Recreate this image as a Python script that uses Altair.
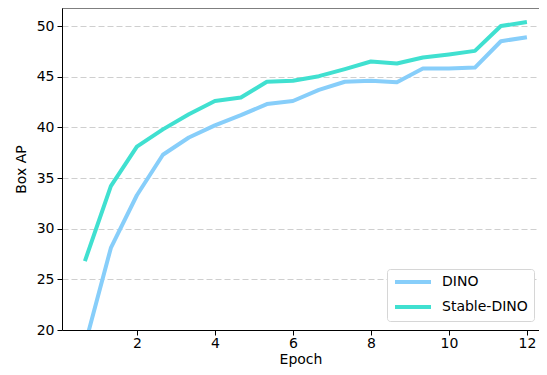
import altair as alt
import pandas as pd

epochs = [0.667, 1.333, 2.0, 2.667, 3.333, 4.0, 4.667, 5.333, 6.0,
          6.667, 7.333, 8.0, 8.667, 9.333, 10.0, 10.667, 11.333, 12.0]
dino = [18.5, 28.1, 33.3, 37.3, 39.0, 40.2, 41.2, 42.3, 42.6,
        43.7, 44.5, 44.6, 44.45, 45.8, 45.8, 45.9, 48.5, 48.9]
stable_dino = [26.8, 34.2, 38.1, 39.8, 41.3, 42.6, 42.95, 44.5, 44.6,
               45.05, 45.75, 46.5, 46.3, 46.9, 47.2, 47.55, 50.0, 50.4]
models = ["DINO", "Stable-DINO"]
colors = ["#87CEFA", "#40E0D0"]
x_ticks = [2, 4, 6, 8, 10, 12]
y_ticks = [20, 25, 30, 35, 40, 45, 50]

df = pd.concat([
    pd.DataFrame({"Epoch": epochs, "AP": dino, "Model": models[0], "k": 0}),
    pd.DataFrame({"Epoch": epochs, "AP": stable_dino, "Model": models[1], "k": 1}),
])

W, H = 477, 322
FONT = "DejaVu Sans"

lines = alt.Chart(df).mark_line(strokeWidth=4, clip=True, strokeJoin="round", strokeCap="butt").encode(
    x=alt.X("Epoch:Q",
            scale=alt.Scale(domain=[0.08, 12.31], nice=False, zero=False),
            axis=alt.Axis(values=x_ticks, grid=False, title="Epoch", format="d",
                          titleY=33.5, titleBaseline="alphabetic")),
    y=alt.Y("AP:Q",
            scale=alt.Scale(domain=[20, 51.78], nice=False, zero=False),
            axis=alt.Axis(values=y_ticks, grid=True, gridDash=[6, 3], gridColor="#cfcfcf",
                          gridWidth=1, title="Box AP", format="d")),
    color=alt.Color("Model:N", scale=alt.Scale(domain=models, range=colors),
                    legend=alt.Legend(title=None, orient="none", legendX=325, legendY=261,
                                      symbolType="M-3.6,0L3.6,0", symbolSize=100,
                                      symbolOffset=13, labelOffset=22,
                                      symbolStrokeWidth=4, symbolFillColor="transparent",
                                      labelFontSize=14, labelFont=FONT, labelColor="black",
                                      rowPadding=9, padding=6, strokeColor="#d6d6d6",
                                      fillColor="white", cornerRadius=3)),
    order="k:Q",
)

top = alt.Chart(pd.DataFrame({"a": [0]})).mark_rule(color="black", strokeWidth=1).encode(
    x=alt.value(0), x2=alt.value(W), y=alt.value(0)
)

chart = alt.layer(lines, top).properties(
    width=W, height=H,
    autosize=alt.AutoSizeParams(type="none"),
    padding={"left": 54, "top": 0, "right": 0, "bottom": 37},
).configure_view(stroke=None).configure_axis(
    domainColor="black", tickColor="black", tickSize=5, labelPadding=1,
    labelFontSize=14, labelFont=FONT, labelColor="black",
    titleFontSize=14, titleFont=FONT, titleColor="black", titleFontWeight="normal",
).configure_axisY(titlePadding=8, labelPadding=3)

chart.save("out.html", embed_options={"renderer": "svg", "actions": False})
